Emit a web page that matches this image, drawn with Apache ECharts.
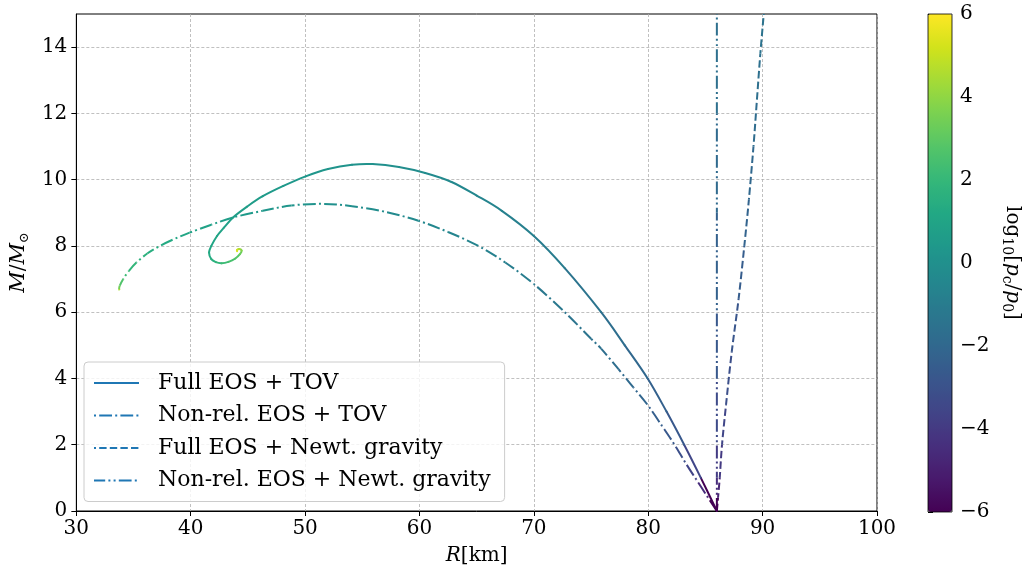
<!DOCTYPE html>
<html>
<head>
<meta charset="utf-8">
<script src="https://cdn.jsdelivr.net/npm/echarts@6/dist/echarts.min.js"></script>
<style>html,body{margin:0;padding:0;background:#fff;}#c{width:1024px;height:571px;}</style>
</head>
<body>
<div id="c"></div>
<script>
// ---- Data ----
const seriesNames = ['Full EOS + TOV', 'Non-rel. EOS + TOV', 'Full EOS + Newt. gravity', 'Non-rel. EOS + Newt. gravity'];
const xTicks = [30, 40, 50, 60, 70, 80, 90, 100];
const yTicks = [0, 2, 4, 6, 8, 10, 12, 14];
const cbTicks = [-6, -4, -2, 0, 2, 4, 6];

// Full EOS + TOV
const fullTovR = [86.0, 84.6, 83.14, 81.6, 79.95, 77.95, 75.88, 72.7, 70.0, 67.2, 65.0, 62.8, 60.5, 58.2, 55.9, 54.1, 52.0, 50.05, 48.1, 46.3, 44.9, 43.7, 42.9, 42.3, 41.8, 41.6, 41.8, 42.2, 42.7, 43.3, 43.9, 44.3, 44.45, 44.25, 44.05, 44.05];
const fullTovM = [0.0, 1.0, 2.0, 3.0, 4.0, 5.0, 6.0, 7.33, 8.3, 9.06, 9.52, 9.93, 10.2, 10.38, 10.47, 10.45, 10.32, 10.1, 9.81, 9.5, 9.18, 8.86, 8.55, 8.3, 8.0, 7.8, 7.6, 7.51, 7.48, 7.52, 7.62, 7.75, 7.86, 7.91, 7.88, 7.84];
const fullTovP = [-6.0, -3.5, -2.7, -2.3, -2.0, -1.7, -1.4, -1.0, -0.8, -0.6, -0.45, -0.3, -0.15, 0.0, 0.1, 0.2, 0.3, 0.4, 0.5, 0.6, 0.7, 0.8, 0.95, 1.05, 1.15, 1.3, 1.6, 1.9, 2.2, 2.5, 2.8, 3.3, 3.9, 4.6, 5.3, 6.0];

// Non-rel. EOS + TOV
const nrTovR = [86.0, 85.2, 84.2, 83.3, 82.3, 81.2, 79.95, 78.7, 77.4, 75.88, 75.0, 72.7, 70.0, 67.5, 65.15, 62.5, 59.9, 57.0, 54.1, 51.5, 48.8, 46.3, 43.7, 41.8, 39.9, 38.5, 37.3, 36.2, 35.25, 34.6, 34.1, 33.8, 33.74, 33.86];
const nrTovM = [0.0, 0.42, 0.95, 1.43, 2.0, 2.57, 3.2, 3.73, 4.28, 4.9, 5.2, 6.0, 6.85, 7.5, 8.0, 8.42, 8.76, 9.03, 9.2, 9.27, 9.22, 9.06, 8.86, 8.64, 8.4, 8.2, 8.0, 7.77, 7.5, 7.25, 7.0, 6.8, 6.7, 6.62];
const nrTovP = [-6.0, -4.5, -3.6, -3.1, -2.7, -2.4, -2.1, -1.9, -1.7, -1.5, -1.4, -1.2, -0.95, -0.75, -0.6, -0.45, -0.3, -0.15, 0.0, 0.15, 0.3, 0.5, 0.7, 0.9, 1.1, 1.3, 1.5, 1.7, 1.9, 2.2, 2.7, 3.4, 4.5, 6.0];

// Full EOS + Newtonian gravity
const fullNewtR = [86.0, 86.1, 86.25, 86.45, 86.8, 87.3, 87.9, 88.4, 88.8, 89.2, 89.5, 89.8, 90.1];
const fullNewtM = [0.0, 0.4, 1.0, 2.0, 3.2, 4.8, 6.4, 8.0, 9.4, 11.0, 12.4, 13.8, 15.0];
const fullNewtP = [-6.0, -4.8, -4.0, -3.5, -3.1, -2.8, -2.5, -2.2, -2.0, -1.8, -1.6, -1.45, -1.3];

// Non-rel. EOS + Newtonian gravity
const nrNewtR = [86.0, 86.0, 86.0, 86.0, 86.0, 86.0, 86.0, 86.0, 86.0];
const nrNewtM = [0.0, 0.5, 1.0, 2.0, 4.0, 6.0, 9.0, 12.0, 15.0];
const nrNewtP = [-6.0, -4.5, -3.9, -3.3, -2.7, -2.3, -1.9, -1.6, -1.3];

const viridis = ['#440154', '#481a6c', '#472f7d', '#414487', '#39568c', '#31688e', '#2a788e', '#23888e', '#1f988b', '#22a884', '#35b779', '#54c568', '#7ad151', '#a5db36', '#d2e21b', '#fde725'];

// ---- Chart ----
const FONT = 'DejaVu Serif';
const dashes = [null, [12.8, 3.2, 2, 3.2], [7.4, 3.2], [12.8, 3.2, 2, 3.2, 2, 3.2]];
const curves = [
  [fullTovR, fullTovM, fullTovP],
  [nrTovR, nrTovM, nrTovP],
  [fullNewtR, fullNewtM, fullNewtP],
  [nrNewtR, nrNewtM, nrNewtP]
];

// smooth (Catmull-Rom style) bezier rendering of segment k in pixel space
function segment(api, R, M, k) {
  const n = R.length;
  const P = j => api.coord([R[Math.max(0, Math.min(n - 1, j))], M[Math.max(0, Math.min(n - 1, j))]]);
  const p0 = P(k - 1), p1 = P(k), p2 = P(k + 1), p3 = P(k + 2);
  return {
    x1: p1[0], y1: p1[1], x2: p2[0], y2: p2[1],
    cpx1: p1[0] + (p2[0] - p0[0]) / 6, cpy1: p1[1] + (p2[1] - p0[1]) / 6,
    cpx2: p2[0] - (p3[0] - p1[0]) / 6, cpy2: p2[1] - (p3[1] - p1[1]) / 6
  };
}
function bezLen(s) {
  let len = 0, px = s.x1, py = s.y1;
  for (let t = 1; t <= 12; t++) {
    const u = t / 12, v = 1 - u;
    const x = v * v * v * s.x1 + 3 * v * v * u * s.cpx1 + 3 * v * u * u * s.cpx2 + u * u * u * s.x2;
    const y = v * v * v * s.y1 + 3 * v * v * u * s.cpy1 + 3 * v * u * u * s.cpy2 + u * u * u * s.y2;
    len += Math.hypot(x - px, y - py); px = x; py = y;
  }
  return len;
}
function makeRender(R, M, dash) {
  return function (params, api) {
    const i = params.dataIndex;
    if (i >= R.length - 1) return null;
    let cum = 0;
    for (let k = 0; k < i; k++) cum += bezLen(segment(api, R, M, k));
    return {
      type: 'bezierCurve', silent: true,
      shape: segment(api, R, M, i),
      style: { fill: null, stroke: api.visual('color'), lineWidth: 2, lineDash: dash, lineDashOffset: cum, lineCap: dash ? 'butt' : 'round' }
    };
  };
}

const minus = v => String(v).replace('-', '\u2212');
const series = [];
seriesNames.forEach((n, k) => {
  series.push({
    name: n, type: 'line', data: [], symbol: 'none', xAxisIndex: 0, yAxisIndex: 0,
    itemStyle: { color: '#1f77b4', opacity: 0 },
    lineStyle: { color: '#1f77b4', width: 2, type: dashes[k] || 'solid' }
  });
});
curves.forEach((c, k) => {
  series.push({
    name: 'c' + k, type: 'custom', xAxisIndex: 0, yAxisIndex: 0, z: 3,
    renderItem: makeRender(c[0], c[1], dashes[k]),
    encode: { x: 0, y: 1 },
    data: c[0].map((r, j) => [r, c[1][j], c[2][j]])
  });
});

const chart = echarts.init(document.getElementById('c'), null, { renderer: 'canvas' });
chart.setOption({
  animation: false,
  backgroundColor: '#fff',
  textStyle: { fontFamily: FONT },
  grid: [
    { left: 73, right: 147, top: 14, bottom: 58, show: true, borderColor: '#000', borderWidth: 1, backgroundColor: 'transparent' },
    { left: 928, width: 24, top: 14, height: 498, show: true, borderColor: '#000', borderWidth: 0.8, backgroundColor: 'transparent', z: 10 }
  ],
  xAxis: [
    {
      type: 'value', gridIndex: 0, min: xTicks[0], max: xTicks[xTicks.length - 1], interval: 10,
      name: '{i|R}[km]', nameLocation: 'middle', nameGap: 35,
      nameTextStyle: { fontSize: 20, fontFamily: FONT, color: '#000', rich: { i: { fontStyle: 'italic', fontSize: 20, fontFamily: FONT, color: '#000' } } },
      axisLine: { show: true, onZero: false, lineStyle: { color: '#000', width: 1 } },
      axisTick: { show: true, inside: false, length: 5, lineStyle: { color: '#000' } },
      axisLabel: { fontSize: 20, fontFamily: FONT, color: '#000', margin: 8 },
      splitLine: { show: true, lineStyle: { color: '#b0b0b0', width: 0.8, type: [3, 2] } }
    },
    { type: 'value', gridIndex: 1, show: false, min: 0, max: 1 }
  ],
  yAxis: [
    {
      type: 'value', gridIndex: 0, min: 0, max: 15,
      name: '{i|M}/{i|M}{s|\u2299}', nameLocation: 'middle', nameGap: 38, nameRotate: 90,
      nameTextStyle: { fontSize: 20, fontFamily: FONT, color: '#000', rich: { i: { fontStyle: 'italic', fontSize: 21, fontFamily: FONT, color: '#000' }, s: { fontSize: 13, fontFamily: FONT, color: '#000', padding: [12, 0, 0, 0] } } },
      axisLine: { show: true, onZero: false, lineStyle: { color: '#000', width: 1 } },
      axisTick: { show: true, inside: false, length: 5, lineStyle: { color: '#000' }, customValues: yTicks },
      axisLabel: { fontSize: 20, fontFamily: FONT, color: '#000', margin: 9, customValues: yTicks },
      splitLine: { show: true, lineStyle: { color: '#b0b0b0', width: 0.8, type: [3, 2] } }
    },
    {
      type: 'value', gridIndex: 1, position: 'right', min: cbTicks[0], max: cbTicks[cbTicks.length - 1], interval: 2,
      name: 'log{s|10}[{i|p}{s|c}/{i|p}{s|0}]', nameLocation: 'middle', nameGap: 48, nameRotate: -90,
      nameTextStyle: { fontSize: 20, fontFamily: FONT, color: '#000', rich: { i: { fontStyle: 'italic', fontSize: 20, fontFamily: FONT, color: '#000' }, s: { fontSize: 14, fontFamily: FONT, color: '#000', padding: [10, 0, 0, 0] } } },
      axisLine: { show: false },
      axisTick: { show: true, inside: false, length: 5, lineStyle: { color: '#000' } },
      axisLabel: { fontSize: 20, fontFamily: FONT, color: '#000', margin: 8, formatter: minus },
      splitLine: { show: false }
    }
  ],
  visualMap: {
    type: 'continuous', min: -6, max: 6, dimension: 2, seriesIndex: [4, 5, 6, 7],
    inRange: { color: viridis },
    left: 928, top: 14, itemWidth: 24, itemHeight: 498, padding: 0,
    calculable: false, text: null, hoverLink: false, orient: 'vertical'
  },
  legend: {
    data: seriesNames, orient: 'vertical', left: 84, top: 362,
    padding: [9, 14, 9, 9], itemGap: 8.5, itemWidth: 45, itemHeight: 14,
    backgroundColor: 'rgba(255,255,255,0.8)', borderColor: '#cccccc', borderWidth: 1, borderRadius: 4,
    itemStyle: { color: 'rgba(0,0,0,0)', opacity: 0, borderWidth: 0 },
    textStyle: { fontSize: 22, fontFamily: FONT, color: '#000', lineHeight: 24, padding: [0, 0, 0, 14] },
    selectedMode: false
  },
  series: series
});
</script>
</body>
</html>
